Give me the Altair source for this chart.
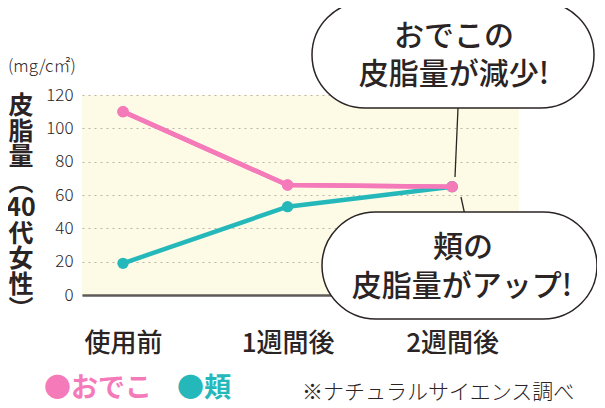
import altair as alt
import pandas as pd

categories = ["使用前", "1週間後", "2週間後"]
forehead = [110, 66, 65]
cheek = [19, 53, 65]
series_names = ["おでこ", "頬"]
y_ticks = [0, 20, 40, 60, 80, 100, 120]

PINK = "#f47ab9"
TEAL = "#25b8bb"
INK = "#2b2424"
FONT = "Noto Sans CJK JP"

rows = []
for c, v in zip(categories, forehead):
    rows.append({"cat": c, "series": series_names[0], "value": v})
for c, v in zip(categories, cheek):
    rows.append({"cat": c, "series": series_names[1], "value": v})
df = pd.DataFrame(rows)

yscale = alt.Scale(domain=[0, 120])
xscale = alt.Scale(type="point", padding=0.328, align=0.38)
xaxis = alt.Axis(title=None, labelAngle=0, labelFontSize=26, labelFont=FONT,
                 labelFontWeight=500, labelColor=INK, labelPadding=35,
                 ticks=False, domain=True, domainColor="#5f5a58", domainWidth=2.5)
yaxis = alt.Axis(values=y_ticks, title=None, grid=True, gridDash=[2, 4],
                 gridColor="#b9b6aa", gridWidth=1.2, domain=False, ticks=False,
                 labelFontSize=17, labelColor=INK, labelFont=FONT, labelOverlap=False,
                 labelFontWeight=300, labelPadding=9)

x_enc = alt.X("cat:N", sort=categories, scale=xscale, axis=xaxis)
y_enc = alt.Y("value:Q", scale=yscale, axis=yaxis)
color = alt.Color("series:N", scale=alt.Scale(domain=series_names, range=[PINK, TEAL]),
                  legend=None)

base = alt.Chart(df).encode(x=x_enc, y=y_enc, color=color)
lines = base.mark_line(strokeWidth=4.5)
points = base.mark_circle(size=130, opacity=1)
pink = alt.Chart(df).transform_filter(alt.datum.series == series_names[0]).encode(x=x_enc, y=y_enc)
pink_top = pink.mark_line(strokeWidth=4.5, color=PINK)
pink_pts = pink.mark_circle(size=130, opacity=1, color=PINK)

# annotations
def txt(text, x, y, size, color=INK, weight=500, align="center", baseline="middle", **kw):
    return alt.Chart(pd.DataFrame({"t": [0]})).mark_text(
        text=text, fontSize=size, font=FONT, fontWeight=weight,
        color=color, align=align, baseline=baseline, **kw).encode(
        x=alt.value(x), y=alt.value(y))

def pill(x0, x1, y0, y1):
    return alt.Chart(pd.DataFrame({"a": [0]})).mark_rect(
        fill="white", stroke="#2b2424", strokeWidth=1.5, cornerRadius=(y1 - y0) / 2).encode(
        x=alt.value(x0), x2=alt.value(x1), y=alt.value(y0), y2=alt.value(y1))

def seg(x0, y0, x1, y1):
    return alt.Chart(pd.DataFrame({"a": [0]})).mark_rule(color="#2b2424", strokeWidth=1.3).encode(
        x=alt.value(x0), x2=alt.value(x1), y=alt.value(y0), y2=alt.value(y1))

ox, oy = 82, 95  # plot origin on page (for annotation placement)
def P(x, y):
    return x - ox, y - oy

ann = []
a = P(458, 108); b = P(455, 177)
ann.append(seg(a[0], a[1], b[0], b[1]))
a = P(461, 197); b = P(466, 220)
ann.append(seg(a[0], a[1], b[0], b[1]))
x0, y0 = P(312, 2); x1, y1 = P(594, 108)
ann.append(pill(x0, x1, y0, y1))
x0, y0 = P(322, 212); x1, y1 = P(597, 319)
ann.append(pill(x0, x1, y0, y1))
cx, cy = P(454, 37); ann.append(txt("おでこの", cx, cy, 30))
cx, cy = P(454, 75); ann.append(txt("皮脂量が減少!", cx, cy, 30))
cx, cy = P(463, 248); ann.append(txt("頬の", cx, cy, 30))
cx, cy = P(462, 287); ann.append(txt("皮脂量がアップ!", cx, cy, 30))

# y title (vertical) and unit
cx, cy = P(8, 67); ann.append(txt("(mg/c㎡)", cx, cy, 17, weight=300, align="left"))
cx, cy = P(21, 106)
ann.append(alt.Chart(pd.DataFrame({"a": [0]})).mark_text(
    text=["皮", "脂", "量", "︵", "40", "代", "女", "性", "︶"], lineHeight=25.5,
    fontSize=25, font=FONT, fontWeight="bold", color=INK, align="center",
    baseline="middle").encode(x=alt.value(cx), y=alt.value(cy)))

# legend + source
cx, cy = P(44, 389); ann.append(txt("●おでこ", cx, cy, 27, color=PINK, weight="bold", align="left"))
cx, cy = P(177, 389); ann.append(txt("●頬", cx, cy, 27, color=TEAL, weight="bold", align="left"))
cx, cy = P(302, 393); ann.append(txt("※ナチュラルサイエンス調べ", cx, cy, 21, weight=300, align="left"))

data_layer = alt.layer(lines, points, pink_top, pink_pts)
chart = alt.layer(data_layer, *ann).properties(
    width=437, height=200,
    autosize=alt.AutoSizeParams(type="none"),
    padding={"left": 74, "top": 87, "right": 78, "bottom": 110},
    background="white",
).configure_view(fill="#fdfbe5", stroke=None)

chart.save("out.html", embed_options={"renderer": "svg", "actions": False})
